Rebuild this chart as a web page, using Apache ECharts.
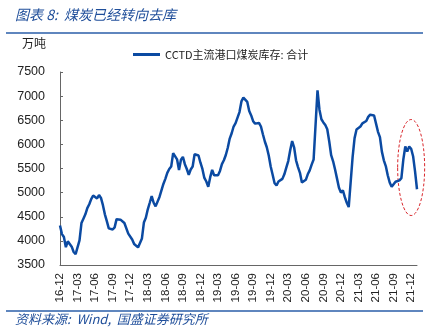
<!DOCTYPE html>
<html><head><meta charset="utf-8">
<script src="https://cdn.jsdelivr.net/npm/echarts@6/dist/echarts.min.js"></script>
<style>html,body{margin:0;padding:0;background:#fff}#c{width:442px;height:335px}</style>
</head><body><div id="c"></div>
<script>
// Tick labels (quarterly)
var tickLabels = ["16-12","17-03","17-06","17-09","17-12","18-03","18-06","18-09","18-12","19-03","19-06","19-09","19-12","20-03","20-06","20-09","20-12","21-03","21-06","21-09","21-12"];
// CCTD主流港口煤炭库存: 合计 (万吨), ~3 readings per month from 2016-12 to 2021-12
var stockValues = [
4320,4140,4080,3870,3990,4000,3880,3770,3725,3740,
4010,4370,4460,4550,4680,4760,4865,4940,4960,4880,
4950,4890,4740,4550,4410,4260,4240,4235,4280,4450,
4460,4440,4400,4370,4330,4150,4130,4030,3935,3950,
3865,3840,4050,4380,4480,4655,4790,4930,4790,4715,
4740,4910,4940,5180,5285,5410,5490,5540,5820,5790,
5690,5470,5680,5740,5590,5490,5370,5480,5540,5795,
5825,5770,5620,5490,5305,5230,5120,5320,5470,5360,
5340,5360,5450,5590,5670,5780,5930,6120,6230,6370,
6440,6480,6670,6890,6970,6970,6880,6690,6600,6480,
6430,6465,6445,6370,6210,6060,5940,5770,5540,5370,
5195,5150,5230,5200,5285,5380,5520,5655,5880,6070,
5940,5670,5530,5410,5210,5200,5265,5380,5460,5580,
5685,5680,7120,6720,6520,6455,6400,6315,6065,5775,
5650,5480,5290,5100,5000,5050,4905,4790,4700,4670,
5740,6130,6310,6320,6370,6435,6400,6485,6570,6615,
6605,6600,6430,6260,6150,5850,5670,5550,5360,5210,
5120,5140,5225,5240,5255,5300,5690,5955,5850,5955,
5910,5755,5440,5070
];
// Category dates: days 01/11/21 of each month starting 2016-12
var categories = [];
(function(){
  var y = 2016, m = 12, days = ["01","11","21"];
  for (var i = 0; i < stockValues.length; i++) {
    var k = i % 3;
    categories.push(y + "-" + (m < 10 ? "0" + m : m) + "-" + days[k]);
    if (k === 2) { m++; if (m > 12) { m = 1; y++; } }
  }
})();
var seriesName = "CCTD主流港口煤炭库存: 合计";
var yMin = 3500, yMax = 7500, yStep = 500;
// highlighted region (annotation) in data terms
var highlightIndex = 179.5, highlightValue = 5520;

var chart = echarts.init(document.getElementById('c'), null, {renderer:'canvas'});
var blue = '#0b4aa2';
var option = {
  animation:false,
  backgroundColor:'#fff',
  grid:{left:60,right:25,top:72,bottom:70,containLabel:false},
  legend:{
    top:44,left:128,
    itemWidth:27,itemHeight:3,itemGap:3,
    icon:'rect',
    textStyle:{fontFamily:'Noto Sans CJK SC',fontSize:11,color:'#222'},
    data:[seriesName]
  },
  xAxis:{
    type:'category',data:categories,boundaryGap:false,
    axisLine:{lineStyle:{color:'#666',width:1}},
    axisTick:{show:false},
    axisLabel:{
      interval:function(i){return i % 9 === 0;},
      rotate:90,margin:8,
      fontFamily:'Liberation Sans',fontSize:11.5,color:'#222',
      formatter:function(v,i){return tickLabels[i/9] || '';}
    },
    splitLine:{show:false}
  },
  yAxis:{
    type:'value',min:yMin,max:yMax,interval:yStep,
    axisLine:{show:true,lineStyle:{color:'#666',width:1}},
    axisTick:{show:true,inside:true,length:3,lineStyle:{color:'#666'}},
    axisLabel:{margin:15,fontFamily:'Liberation Sans',fontSize:12.5,color:'#222',
      formatter:function(v){return String(v);}},
    splitLine:{show:false}
  },
  series:[{
    name:seriesName,type:'line',data:stockValues,
    showSymbol:false,symbol:'none',
    lineStyle:{color:blue,width:2.5},itemStyle:{color:blue}
  }],
  graphic:[
    {type:'text',left:15,top:8,style:{text:'图表 8:  煤炭已经转向去库',font:'italic 14px "Noto Sans CJK SC"',fill:'#1f4e9a'}},
    {type:'line',shape:{x1:6,y1:33,x2:423,y2:33},style:{stroke:'#2a5ea8',lineWidth:1.5}},
    {type:'text',left:22,top:37,style:{text:'万吨',font:'12px "Noto Sans CJK SC"',fill:'#222'}},
    {type:'line',shape:{x1:6,y1:311,x2:423,y2:311},style:{stroke:'#2a5ea8',lineWidth:1.5}},
    {type:'text',left:15,top:313,style:{text:'资料来源:  Wind,  国盛证券研究所',font:'italic 13px "Noto Sans CJK SC"',fill:'#1f4e9a'}}
  ]
};
chart.setOption(option);
var c = chart.convertToPixel({gridIndex:0},[highlightIndex, highlightValue]);
chart.setOption({graphic:option.graphic.concat([{
  type:'ellipse',shape:{cx:c[0],cy:c[1],rx:13.5,ry:48},
  style:{fill:'none',stroke:'#d9262b',lineWidth:1,lineDash:[3,2]}
}])});
</script></body></html>
